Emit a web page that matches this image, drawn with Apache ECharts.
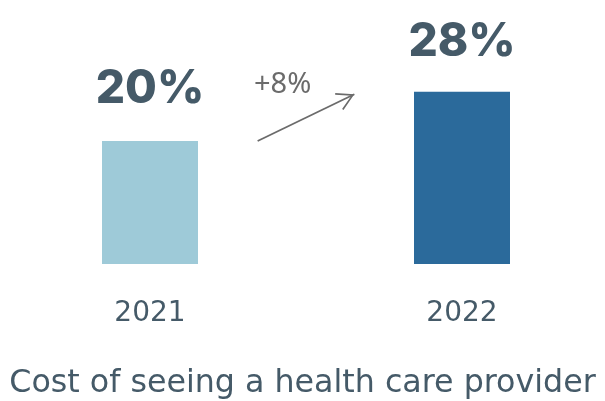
<!DOCTYPE html>
<html>
<head>
<meta charset="utf-8">
<script src="https://cdn.jsdelivr.net/npm/echarts@6/dist/echarts.min.js"></script>
<style>
  html, body { margin: 0; padding: 0; background: #fff; }
  #chart { width: 605px; height: 401px; }
</style>
</head>
<body>
<div id="chart"></div>
<script>
// 数据
const years = ['2021', '2022']
const shares = [20, 28]
const barColors = ['#9ecad8', '#2b6a9b']
const changeLabel = '+8%'
// arrow from / to, on the hidden value x axis (0 = 2021, 1 = 2022)
const arrowFrom = [0.345, 20]
const arrowTo = [0.655, 27.6]
const changeLabelAt = [0.425, 29.2]

const textColor = '#455a68'
// open chevron, tip in the middle of its box so it sits on the line end
const chevron = 'path://M5,-9.2L5.001,-9.2Z M0,8.66L5,0L10,8.66L9.2,9.1L5,1.7L0.8,9.1Z'

const chart = echarts.init(document.getElementById('chart'))

const option = {
  animation: false,
  title: {
    text: 'Cost of seeing a health care provider',
    left: 'center',
    top: 363,
    textStyle: {
      fontFamily: 'DejaVu Sans',
      fontSize: 31.7,
      fontWeight: 'normal',
      color: textColor
    }
  },
  grid: {
    left: 150,
    right: 143,
    top: 79.5,
    bottom: 137
  },
  xAxis: [
    {
      type: 'category',
      data: years,
      boundaryGap: false,
      axisLine: { show: false },
      axisTick: { show: false },
      axisLabel: {
        margin: 36,
        fontFamily: 'DejaVu Sans',
        fontSize: 28,
        color: textColor
      }
    },
    {
      type: 'value',
      min: 0,
      max: 1,
      show: false
    }
  ],
  yAxis: {
    type: 'value',
    min: 0,
    max: 30,
    show: false
  },
  series: [
    {
      type: 'bar',
      barWidth: 96,
      data: shares.map((v, i) => ({
        value: v,
        itemStyle: { color: barColors[i] },
        label: { distance: i === 0 ? 29 : 27 }
      })),
      label: {
        show: true,
        position: 'top',
        formatter: '{c}%',
        fontFamily: 'Inter',
        fontWeight: 800,
        fontSize: 46,
        color: textColor
      }
    },
    {
      type: 'line',
      xAxisIndex: 1,
      data: [],
      markLine: {
        silent: true,
        symbol: ['none', chevron],
        symbolSize: [19, 35],
        symbolKeepAspect: false,
        lineStyle: { color: '#6b6b6b', width: 1.8, type: 'solid' },
        label: { show: false },
        data: [[{ coord: arrowFrom }, { coord: arrowTo }]]
      },
      markPoint: {
        silent: true,
        symbolSize: 0,
        label: {
          show: true,
          position: 'inside',
          formatter: changeLabel,
          fontFamily: 'Noto Sans',
          fontSize: 29,
          color: '#6b6b6b'
        },
        data: [{ coord: changeLabelAt }]
      }
    }
  ]
}

chart.setOption(option)
</script>
</body>
</html>
